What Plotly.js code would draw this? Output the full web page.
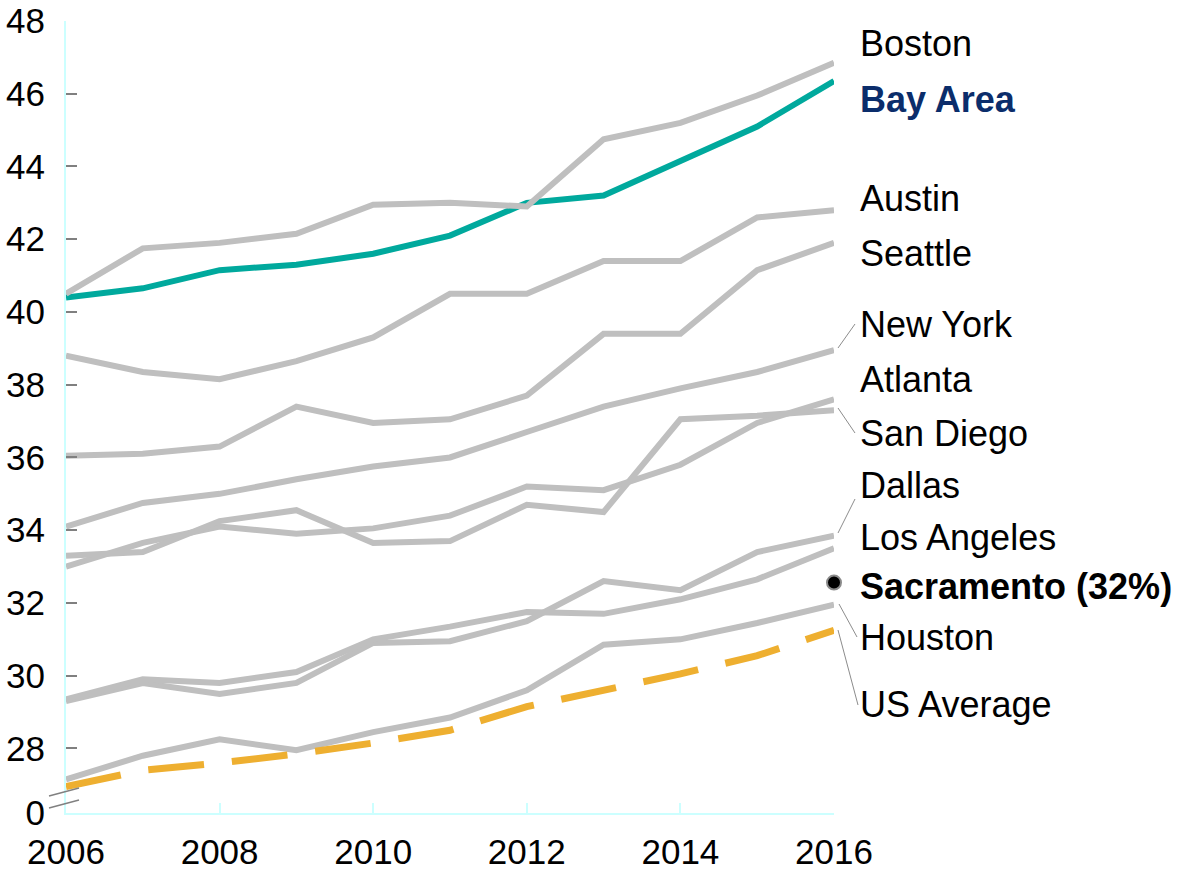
<!DOCTYPE html>
<html>
<head>
<meta charset="utf-8">
<script src="https://cdn.plot.ly/plotly-3.0.1.min.js"></script>
<style>
  html, body { margin: 0; padding: 0; background: #ffffff; }
  #chart { width: 1179px; height: 872px; }
</style>
</head>
<body>
<div id="chart"></div>
<script>
// ---- data ----
var years = [2006, 2007, 2008, 2009, 2010, 2011, 2012, 2013, 2014, 2015, 2016];
var boston     = [40.5, 41.75, 41.9, 42.15, 42.95, 43.0, 42.9, 44.75, 45.2, 45.95, 46.85];
var bayArea    = [40.4, 40.65, 41.15, 41.3, 41.6, 42.1, 43.0, 43.2, 44.15, 45.1, 46.35];
var austin     = [38.8, 38.35, 38.15, 38.65, 39.3, 40.5, 40.5, 41.4, 41.4, 42.6, 42.8];
var seattle    = [36.05, 36.1, 36.3, 37.4, 36.95, 37.05, 37.7, 39.4, 39.4, 41.15, 41.9];
var newYork    = [34.1, 34.75, 35.0, 35.4, 35.75, 36.0, 36.7, 37.4, 37.9, 38.35, 38.95];
var atlanta    = [33.0, 33.65, 34.1, 33.9, 34.05, 34.4, 35.2, 35.1, 35.8, 36.95, 37.6];
var sanDiego   = [33.3, 33.4, 34.25, 34.55, 33.65, 33.7, 34.7, 34.5, 37.05, 37.15, 37.3];
var dallas     = [29.3, 29.8, 29.5, 29.8, 30.9, 30.95, 31.5, 32.6, 32.35, 33.4, 33.85];
var losAngeles = [29.35, 29.9, 29.8, 30.1, 31.0, 31.35, 31.75, 31.7, 32.1, 32.65, 33.5];
var houston    = [27.15, 27.8, 28.25, 27.95, 28.45, 28.85, 29.6, 30.85, 31.0, 31.45, 31.95];
var usAverage  = [26.95, 27.4, 27.6, 27.85, 28.15, 28.5, 29.15, 29.6, 30.05, 30.55, 31.25];
var sacramentoYear = [2016];
var sacramento = [32.56];

var seriesNames = ['Boston', 'Bay Area', 'Austin', 'Seattle', 'New York', 'Atlanta', 'San Diego',
                   'Dallas', 'Los Angeles', 'Sacramento (32%)', 'Houston', 'US Average'];
var yTickVals = [26.225, 28, 30, 32, 34, 36, 38, 40, 42, 44, 46, 48];
var yTickText = ['0', '28', '30', '32', '34', '36', '38', '40', '42', '44', '46', '48'];
var xTickVals = [2006, 2008, 2010, 2012, 2014, 2016];

// ---- styling / layout helpers ----
var GREY = '#bfbfbf', TEAL = '#00a99d', ORANGE = '#eeaf30', NAVY = '#0b2d6b', CYAN = '#ccffff';
var FONT = 'Arial, "Liberation Sans", sans-serif';
var PL = 66, PR = 834, PT = 21, PB = 813;
function px(x) { return (x - PL) / (PR - PL); }
function py(y) { return (PB - y) / (PB - PT); }

function greyLine(name, vals) {
  return { x: years, y: vals, name: name, type: 'scatter', mode: 'lines',
           line: { color: GREY, width: 6 }, hoverinfo: 'skip' };
}

var traces = [
  { x: years, y: bayArea, name: 'Bay Area', type: 'scatter', mode: 'lines',
    line: { color: TEAL, width: 6 }, hoverinfo: 'skip' },
  greyLine('Boston', boston),
  greyLine('Austin', austin),
  greyLine('Seattle', seattle),
  greyLine('New York', newYork),
  greyLine('Atlanta', atlanta),
  greyLine('San Diego', sanDiego),
  greyLine('Dallas', dallas),
  greyLine('Los Angeles', losAngeles),
  greyLine('Houston', houston),
  { x: years, y: usAverage, name: 'US Average', type: 'scatter', mode: 'lines',
    line: { color: ORANGE, width: 7, dash: '56px,28px' }, hoverinfo: 'skip' },
  { x: sacramentoYear, y: sacramento, name: 'Sacramento', type: 'scatter', mode: 'markers',
    cliponaxis: false,
    marker: { color: '#000000', size: 14, line: { color: '#8a8a8a', width: 2 } }, hoverinfo: 'skip' }
];

// label positions (pixel cap-centres) and styles
var labelPy = [44, 100, 199.5, 254, 325, 380, 434, 486.5, 538, 587.5, 638.5, 705];
var labelColor = ['#000', NAVY, '#000', '#000', '#000', '#000', '#000', '#000', '#000', '#000', '#000', '#000'];
var labelBold = [false, true, false, false, false, false, false, false, false, true, false, false];

var annotations = seriesNames.map(function (n, i) {
  return {
    xref: 'paper', yref: 'paper', x: px(858), y: py(labelPy[i] - 1),
    xanchor: 'left', yanchor: 'middle', showarrow: false,
    text: labelBold[i] ? '<b>' + n + '</b>' : n,
    font: { family: FONT, size: 36, color: labelColor[i] }
  };
});

// leader lines [x0,y0,x1,y1] pixels
var leaders = [
  [838, 348, 855, 324],
  [838, 408, 855, 433],
  [838, 533, 855, 499],
  [839, 604, 857, 637],
  [838, 630, 858, 705]
];
var shapes = leaders.map(function (l) {
  return { type: 'line', xref: 'paper', yref: 'paper',
           x0: px(l[0]), y0: py(l[1]), x1: px(l[2]), y1: py(l[3]),
           line: { color: '#8c8c8c', width: 1 } };
});
// axis break marks
[[49, 796, 79, 788], [49, 808, 79, 800]].forEach(function (l) {
  shapes.push({ type: 'line', xref: 'paper', yref: 'paper',
                x0: px(l[0]), y0: py(l[1]), x1: px(l[2]), y1: py(l[3]),
                line: { color: '#808080', width: 1.5 } });
});

var layout = {
  width: 1179, height: 872,
  margin: { l: PL, r: 1179 - PR, t: PT, b: 872 - PB, pad: 0 },
  paper_bgcolor: '#ffffff', plot_bgcolor: '#ffffff',
  showlegend: false,
  font: { family: FONT, size: 35, color: '#000' },
  xaxis: {
    range: [2006, 2016], tickvals: xTickVals, ticktext: xTickVals.map(String),
    showgrid: false, zeroline: false, showline: true, linecolor: CYAN, linewidth: 2,
    ticks: 'inside', ticklen: 10, tickwidth: 2, tickcolor: CYAN,
    tickfont: { family: FONT, size: 35, color: '#000' }, ticklabelstandoff: 7
  },
  yaxis: {
    range: [26.225, 48], tickvals: yTickVals, ticktext: yTickText,
    showgrid: false, zeroline: false, showline: true, linecolor: CYAN, linewidth: 2,
    ticks: 'inside', ticklen: 11, tickwidth: 2, tickcolor: '#808080',
    tickfont: { family: FONT, size: 35, color: '#000' }, ticklabelstandoff: 12
  },
  annotations: annotations,
  shapes: shapes
};

Plotly.newPlot('chart', traces, layout, { staticPlot: true, displayModeBar: false });
</script>
</body>
</html>
